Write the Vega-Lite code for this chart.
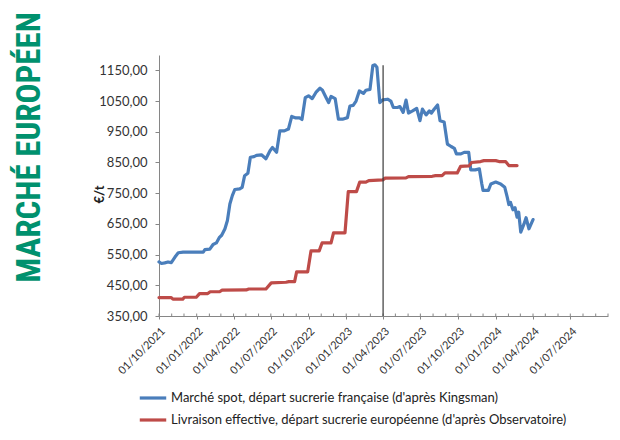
{
  "$schema": "https://vega.github.io/schema/vega-lite/v6.json",
  "width": 449,
  "height": 261,
  "autosize": {"type": "none"},
  "padding": {"left": 159, "top": 55, "right": 12, "bottom": 124},
  "background": "white",
  "title": {
    "text": "MARCHÉ EUROPÉEN",
    "orient": "left",
    "anchor": "middle",
    "frame": "group",
    "font": "Liberation Sans Narrow, Roboto Condensed, Roboto",
    "fontSize": 33,
    "fontWeight": "bold",
    "color": "#00916E",
    "offset": 46,
    "dx": 38
  },
  "config": {
    "view": {"stroke": null},
    "font": "Lato"
  },
  "datasets": {
    "series": [
      {"date": "2021-10-01", "value": 526, "s": "spot"},
      {"date": "2021-10-07", "value": 521, "s": "spot"},
      {"date": "2021-10-15", "value": 523, "s": "spot"},
      {"date": "2021-10-23", "value": 526, "s": "spot"},
      {"date": "2021-10-31", "value": 524, "s": "spot"},
      {"date": "2021-11-09", "value": 542, "s": "spot"},
      {"date": "2021-11-17", "value": 556, "s": "spot"},
      {"date": "2021-11-29", "value": 558, "s": "spot"},
      {"date": "2021-12-15", "value": 558, "s": "spot"},
      {"date": "2022-01-01", "value": 558, "s": "spot"},
      {"date": "2022-01-17", "value": 558, "s": "spot"},
      {"date": "2022-01-21", "value": 566, "s": "spot"},
      {"date": "2022-02-02", "value": 568, "s": "spot"},
      {"date": "2022-02-10", "value": 583, "s": "spot"},
      {"date": "2022-02-18", "value": 588, "s": "spot"},
      {"date": "2022-02-25", "value": 605, "s": "spot"},
      {"date": "2022-03-03", "value": 613, "s": "spot"},
      {"date": "2022-03-11", "value": 634, "s": "spot"},
      {"date": "2022-03-17", "value": 661, "s": "spot"},
      {"date": "2022-03-23", "value": 715, "s": "spot"},
      {"date": "2022-03-29", "value": 742, "s": "spot"},
      {"date": "2022-04-04", "value": 762, "s": "spot"},
      {"date": "2022-04-16", "value": 764, "s": "spot"},
      {"date": "2022-04-22", "value": 769, "s": "spot"},
      {"date": "2022-04-28", "value": 807, "s": "spot"},
      {"date": "2022-05-06", "value": 815, "s": "spot"},
      {"date": "2022-05-12", "value": 867, "s": "spot"},
      {"date": "2022-05-21", "value": 869, "s": "spot"},
      {"date": "2022-05-27", "value": 873, "s": "spot"},
      {"date": "2022-06-08", "value": 875, "s": "spot"},
      {"date": "2022-06-19", "value": 862, "s": "spot"},
      {"date": "2022-06-29", "value": 888, "s": "spot"},
      {"date": "2022-07-05", "value": 899, "s": "spot"},
      {"date": "2022-07-15", "value": 883, "s": "spot"},
      {"date": "2022-07-23", "value": 953, "s": "spot"},
      {"date": "2022-08-03", "value": 953, "s": "spot"},
      {"date": "2022-08-13", "value": 959, "s": "spot"},
      {"date": "2022-08-21", "value": 1000, "s": "spot"},
      {"date": "2022-08-31", "value": 995, "s": "spot"},
      {"date": "2022-09-09", "value": 995, "s": "spot"},
      {"date": "2022-09-15", "value": 990, "s": "spot"},
      {"date": "2022-09-23", "value": 1061, "s": "spot"},
      {"date": "2022-10-01", "value": 1067, "s": "spot"},
      {"date": "2022-10-10", "value": 1058, "s": "spot"},
      {"date": "2022-10-19", "value": 1078, "s": "spot"},
      {"date": "2022-10-29", "value": 1092, "s": "spot"},
      {"date": "2022-11-04", "value": 1085, "s": "spot"},
      {"date": "2022-11-13", "value": 1061, "s": "spot"},
      {"date": "2022-11-19", "value": 1045, "s": "spot"},
      {"date": "2022-11-25", "value": 1065, "s": "spot"},
      {"date": "2022-12-05", "value": 1058, "s": "spot"},
      {"date": "2022-12-13", "value": 991, "s": "spot"},
      {"date": "2022-12-23", "value": 991, "s": "spot"},
      {"date": "2023-01-04", "value": 996, "s": "spot"},
      {"date": "2023-01-10", "value": 1034, "s": "spot"},
      {"date": "2023-01-18", "value": 1036, "s": "spot"},
      {"date": "2023-01-25", "value": 1050, "s": "spot"},
      {"date": "2023-02-02", "value": 1083, "s": "spot"},
      {"date": "2023-02-12", "value": 1075, "s": "spot"},
      {"date": "2023-02-18", "value": 1085, "s": "spot"},
      {"date": "2023-02-28", "value": 1088, "s": "spot"},
      {"date": "2023-03-07", "value": 1166, "s": "spot"},
      {"date": "2023-03-12", "value": 1168, "s": "spot"},
      {"date": "2023-03-17", "value": 1160, "s": "spot"},
      {"date": "2023-03-24", "value": 1045, "s": "spot"},
      {"date": "2023-03-31", "value": 1054, "s": "spot"},
      {"date": "2023-04-12", "value": 1056, "s": "spot"},
      {"date": "2023-04-20", "value": 1050, "s": "spot"},
      {"date": "2023-04-26", "value": 1029, "s": "spot"},
      {"date": "2023-05-06", "value": 1029, "s": "spot"},
      {"date": "2023-05-12", "value": 1032, "s": "spot"},
      {"date": "2023-05-20", "value": 1013, "s": "spot"},
      {"date": "2023-05-27", "value": 1053, "s": "spot"},
      {"date": "2023-06-02", "value": 1011, "s": "spot"},
      {"date": "2023-06-12", "value": 1018, "s": "spot"},
      {"date": "2023-06-22", "value": 1026, "s": "spot"},
      {"date": "2023-06-30", "value": 986, "s": "spot"},
      {"date": "2023-07-06", "value": 1024, "s": "spot"},
      {"date": "2023-07-15", "value": 1005, "s": "spot"},
      {"date": "2023-07-23", "value": 1018, "s": "spot"},
      {"date": "2023-07-28", "value": 1011, "s": "spot"},
      {"date": "2023-08-04", "value": 1024, "s": "spot"},
      {"date": "2023-08-12", "value": 1037, "s": "spot"},
      {"date": "2023-08-18", "value": 986, "s": "spot"},
      {"date": "2023-08-28", "value": 982, "s": "spot"},
      {"date": "2023-09-05", "value": 910, "s": "spot"},
      {"date": "2023-09-14", "value": 902, "s": "spot"},
      {"date": "2023-09-22", "value": 896, "s": "spot"},
      {"date": "2023-09-27", "value": 878, "s": "spot"},
      {"date": "2023-10-08", "value": 878, "s": "spot"},
      {"date": "2023-10-16", "value": 883, "s": "spot"},
      {"date": "2023-10-27", "value": 883, "s": "spot"},
      {"date": "2023-11-01", "value": 826, "s": "spot"},
      {"date": "2023-11-12", "value": 826, "s": "spot"},
      {"date": "2023-11-22", "value": 829, "s": "spot"},
      {"date": "2023-11-28", "value": 780, "s": "spot"},
      {"date": "2023-12-01", "value": 759, "s": "spot"},
      {"date": "2023-12-14", "value": 759, "s": "spot"},
      {"date": "2023-12-20", "value": 780, "s": "spot"},
      {"date": "2024-01-01", "value": 786, "s": "spot"},
      {"date": "2024-01-13", "value": 780, "s": "spot"},
      {"date": "2024-01-23", "value": 769, "s": "spot"},
      {"date": "2024-01-29", "value": 737, "s": "spot"},
      {"date": "2024-02-02", "value": 713, "s": "spot"},
      {"date": "2024-02-06", "value": 720, "s": "spot"},
      {"date": "2024-02-12", "value": 696, "s": "spot"},
      {"date": "2024-02-17", "value": 703, "s": "spot"},
      {"date": "2024-02-22", "value": 672, "s": "spot"},
      {"date": "2024-02-26", "value": 688, "s": "spot"},
      {"date": "2024-03-02", "value": 623, "s": "spot"},
      {"date": "2024-03-10", "value": 650, "s": "spot"},
      {"date": "2024-03-15", "value": 670, "s": "spot"},
      {"date": "2024-03-22", "value": 634, "s": "spot"},
      {"date": "2024-04-01", "value": 664, "s": "spot"},
      {"date": "2021-10-01", "value": 410, "s": "livr"},
      {"date": "2021-10-31", "value": 410, "s": "livr"},
      {"date": "2021-11-04", "value": 405, "s": "livr"},
      {"date": "2021-11-28", "value": 405, "s": "livr"},
      {"date": "2021-12-02", "value": 411, "s": "livr"},
      {"date": "2021-12-31", "value": 411, "s": "livr"},
      {"date": "2022-01-08", "value": 423, "s": "livr"},
      {"date": "2022-01-28", "value": 423, "s": "livr"},
      {"date": "2022-02-03", "value": 429, "s": "livr"},
      {"date": "2022-02-26", "value": 429, "s": "livr"},
      {"date": "2022-03-04", "value": 434, "s": "livr"},
      {"date": "2022-05-02", "value": 435, "s": "livr"},
      {"date": "2022-05-08", "value": 438, "s": "livr"},
      {"date": "2022-06-19", "value": 438, "s": "livr"},
      {"date": "2022-07-02", "value": 458, "s": "livr"},
      {"date": "2022-08-07", "value": 460, "s": "livr"},
      {"date": "2022-08-14", "value": 462, "s": "livr"},
      {"date": "2022-08-28", "value": 462, "s": "livr"},
      {"date": "2022-09-02", "value": 494, "s": "livr"},
      {"date": "2022-09-29", "value": 494, "s": "livr"},
      {"date": "2022-10-07", "value": 562, "s": "livr"},
      {"date": "2022-10-27", "value": 562, "s": "livr"},
      {"date": "2022-11-03", "value": 588, "s": "livr"},
      {"date": "2022-11-25", "value": 588, "s": "livr"},
      {"date": "2022-12-01", "value": 621, "s": "livr"},
      {"date": "2022-12-29", "value": 621, "s": "livr"},
      {"date": "2023-01-06", "value": 755, "s": "livr"},
      {"date": "2023-01-26", "value": 755, "s": "livr"},
      {"date": "2023-02-03", "value": 786, "s": "livr"},
      {"date": "2023-02-18", "value": 786, "s": "livr"},
      {"date": "2023-02-25", "value": 791, "s": "livr"},
      {"date": "2023-03-31", "value": 793, "s": "livr"},
      {"date": "2023-04-06", "value": 799, "s": "livr"},
      {"date": "2023-05-27", "value": 800, "s": "livr"},
      {"date": "2023-06-02", "value": 804, "s": "livr"},
      {"date": "2023-07-30", "value": 805, "s": "livr"},
      {"date": "2023-08-07", "value": 807, "s": "livr"},
      {"date": "2023-08-23", "value": 807, "s": "livr"},
      {"date": "2023-08-30", "value": 816, "s": "livr"},
      {"date": "2023-09-29", "value": 816, "s": "livr"},
      {"date": "2023-10-07", "value": 837, "s": "livr"},
      {"date": "2023-10-28", "value": 839, "s": "livr"},
      {"date": "2023-11-03", "value": 850, "s": "livr"},
      {"date": "2023-11-25", "value": 853, "s": "livr"},
      {"date": "2023-12-03", "value": 856, "s": "livr"},
      {"date": "2024-01-01", "value": 856, "s": "livr"},
      {"date": "2024-01-09", "value": 853, "s": "livr"},
      {"date": "2024-01-25", "value": 853, "s": "livr"},
      {"date": "2024-02-02", "value": 840, "s": "livr"},
      {"date": "2024-02-22", "value": 840, "s": "livr"}
    ],
    "months": [
      {"d": "2021-10-01"}, {"d": "2021-11-01"}, {"d": "2021-12-01"},
      {"d": "2022-01-01"}, {"d": "2022-02-01"}, {"d": "2022-03-01"},
      {"d": "2022-04-01"}, {"d": "2022-05-01"}, {"d": "2022-06-01"},
      {"d": "2022-07-01"}, {"d": "2022-08-01"}, {"d": "2022-09-01"},
      {"d": "2022-10-01"}, {"d": "2022-11-01"}, {"d": "2022-12-01"},
      {"d": "2023-01-01"}, {"d": "2023-02-01"}, {"d": "2023-03-01"},
      {"d": "2023-04-01"}, {"d": "2023-05-01"}, {"d": "2023-06-01"},
      {"d": "2023-07-01"}, {"d": "2023-08-01"}, {"d": "2023-09-01"},
      {"d": "2023-10-01"}, {"d": "2023-11-01"}, {"d": "2023-12-01"},
      {"d": "2024-01-01"}, {"d": "2024-02-01"}, {"d": "2024-03-01"},
      {"d": "2024-04-01"}, {"d": "2024-05-01"}, {"d": "2024-06-01"},
      {"d": "2024-07-01"}, {"d": "2024-08-01"}, {"d": "2024-09-01"},
      {"d": "2024-10-01"}
    ]
  },
  "layer": [
    {
      "data": {"name": "series"},
      "mark": {"type": "line", "strokeWidth": 3.2, "strokeJoin": "round", "strokeCap": "round"},
      "encoding": {
        "x": {
          "field": "date",
          "type": "temporal",
          "title": null,
          "scale": {
            "type": "utc",
            "domain": [
              {"year": 2021, "month": 10, "date": 1, "utc": true},
              {"year": 2024, "month": 10, "date": 1, "utc": true}
            ]
          },
          "axis": {
            "values": [
              {"year": 2021, "month": 10, "date": 1, "utc": true},
              {"year": 2022, "month": 1, "date": 1, "utc": true},
              {"year": 2022, "month": 4, "date": 1, "utc": true},
              {"year": 2022, "month": 7, "date": 1, "utc": true},
              {"year": 2022, "month": 10, "date": 1, "utc": true},
              {"year": 2023, "month": 1, "date": 1, "utc": true},
              {"year": 2023, "month": 4, "date": 1, "utc": true},
              {"year": 2023, "month": 7, "date": 1, "utc": true},
              {"year": 2023, "month": 10, "date": 1, "utc": true},
              {"year": 2024, "month": 1, "date": 1, "utc": true},
              {"year": 2024, "month": 4, "date": 1, "utc": true},
              {"year": 2024, "month": 7, "date": 1, "utc": true}
            ],
            "tickCount": 40,
            "format": "%d/%m/%Y",
            "labelAngle": -45,
            "labelFontSize": 11,
            "labelColor": "#333333",
            "labelPadding": 6,
            "labelFlush": false,
            "labelOverlap": false,
            "labelBound": false,
            "tickSize": 3,
            "tickColor": "#868686",
            "domainColor": "#868686",
            "grid": false
          }
        },
        "y": {
          "field": "value",
          "type": "quantitative",
          "title": "€/t",
          "scale": {"domain": [350, 1200], "zero": false, "nice": false},
          "axis": {
            "values": [350, 450, 550, 650, 750, 850, 950, 1050, 1150],
            "tickCount": 20,
            "labelExpr": "replace(format(datum.value, '.2f'), '.', ',')",
            "labelFontSize": 13,
            "labelColor": "#333333",
            "labelPadding": 8,
            "labelOverlap": false,
            "labelBound": false,
            "labelFlush": false,
            "tickSize": 4,
            "tickColor": "#868686",
            "domainColor": "#868686",
            "grid": false,
            "titleFontSize": 13,
            "titleFontWeight": "bold",
            "titleColor": "#222222",
            "titleAngle": 270,
            "titleAlign": "center",
            "titleBaseline": "bottom",
            "titleX": -53,
            "titleY": 139
          }
        },
        "color": {
          "field": "s",
          "type": "nominal",
          "scale": {"domain": ["spot", "livr"], "range": ["#4A7EBB", "#BE4B48"]},
          "legend": {
            "title": null,
            "orient": "none",
            "legendX": -21,
            "legendY": 328,
            "direction": "vertical",
            "padding": 0,
            "symbolType": "stroke",
            "symbolSize": 700,
            "symbolStrokeWidth": 3.2,
            "rowPadding": 0,
            "labelOffset": 3,
            "labelFontSize": 13,
            "labelColor": "#222222",
            "labelLimit": 600,
            "labelExpr": "datum.label == 'spot' ? 'Marché spot, départ sucrerie française (d\\'après Kingsman)' : 'Livraison effective, départ sucrerie européenne (d\\'après Observatoire)'"
          }
        }
      }
    },
    {
      "data": {"name": "months"},
      "mark": {"type": "rule", "color": "#868686", "strokeWidth": 1},
      "encoding": {
        "x": {"field": "d", "type": "temporal", "title": null},
        "y": {"datum": 350, "title": null},
        "y2": {"datum": 358}
      }
    },
    {
      "data": {"values": [{}]},
      "mark": {"type": "rule", "color": "#3A3A3A", "strokeWidth": 1.2},
      "encoding": {
        "x": {"datum": {"year": 2023, "month": 4, "date": 1, "utc": true}, "type": "temporal", "title": null},
        "y": {"datum": 350, "title": null},
        "y2": {"datum": 1167}
      }
    }
  ]
}
